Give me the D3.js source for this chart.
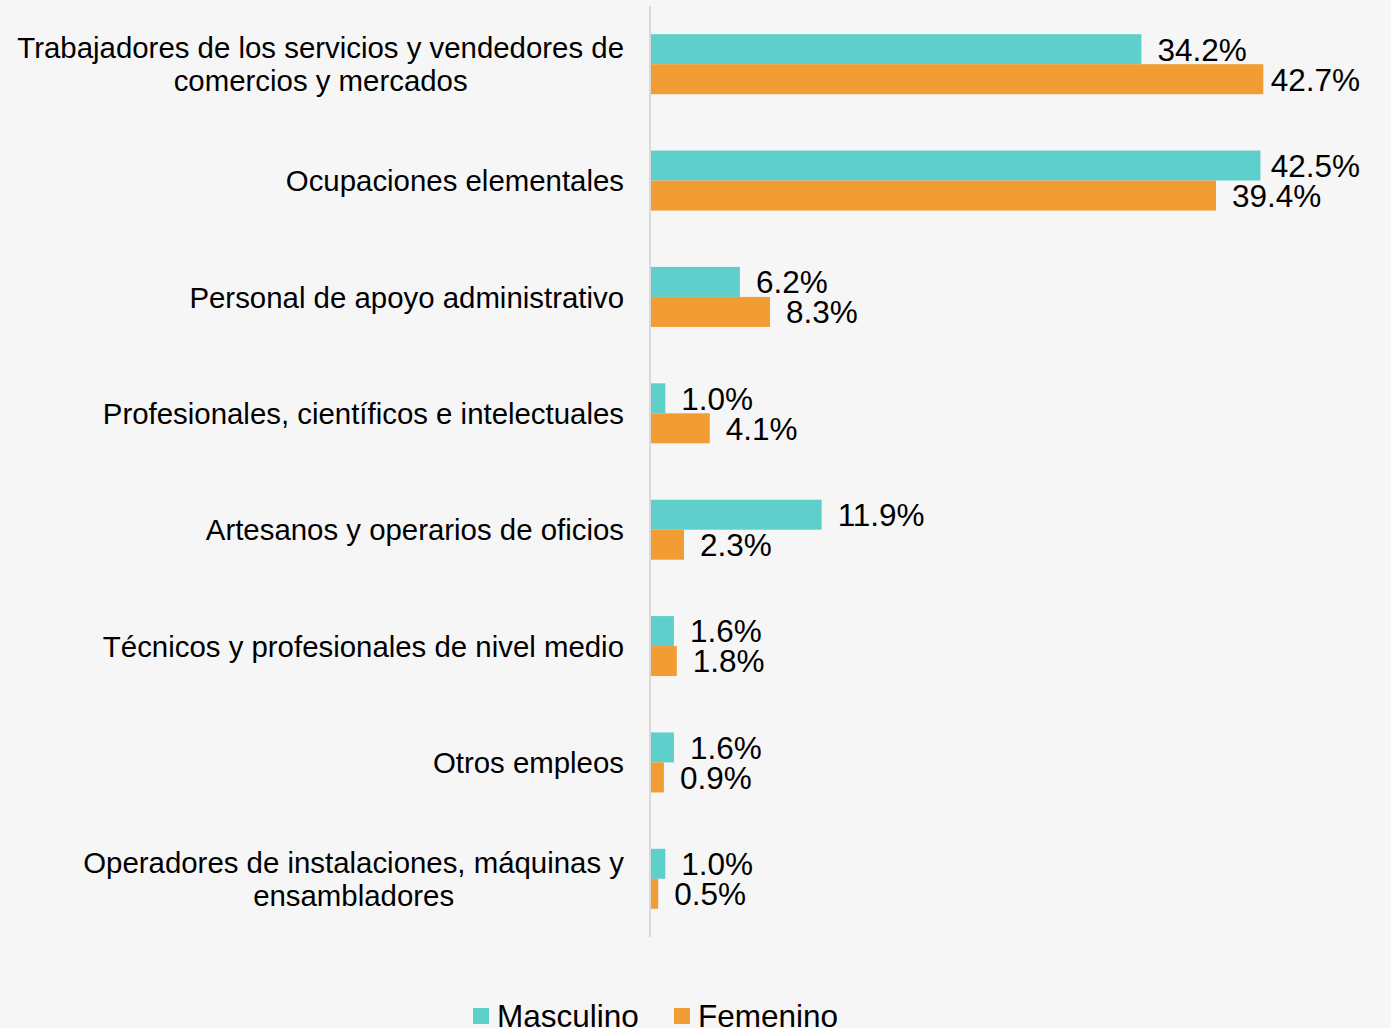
<!DOCTYPE html>
<html>
<head>
<meta charset="utf-8">
<script src="https://cdn.jsdelivr.net/npm/d3@7"></script>
<style>
  html, body { margin: 0; padding: 0; background: #f6f6f6; }
  svg { display: block; font-family: "Liberation Sans", Arial, sans-serif; }
</style>
</head>
<body>
<div id="chart"></div>
<script>
// Categories (top to bottom), each label split into lines
const categories = [
  ["Trabajadores de los servicios y vendedores de", "comercios y mercados"],
  ["Ocupaciones elementales"],
  ["Personal de apoyo administrativo"],
  ["Profesionales, científicos e intelectuales"],
  ["Artesanos y operarios de oficios"],
  ["Técnicos y profesionales de nivel medio"],
  ["Otros empleos"],
  ["Operadores de instalaciones, máquinas y", "ensambladores"]
];
const seriesNames = ["Masculino", "Femenino"];
const masculino = [34.2, 42.5, 6.2, 1.0, 11.9, 1.6, 1.6, 1.0];
const femenino = [42.7, 39.4, 8.3, 4.1, 2.3, 1.8, 0.9, 0.5];
const colors = ["#5fcfcc", "#f29c34"];

const width = 1391, height = 1028;

const svg = d3.select("#chart")
  .append("svg")
  .attr("width", width)
  .attr("height", height)
  .style("background-color", "#f6f6f6");

const keys = categories.map((d, i) => i);

// band for each category, centered in the plot area
const y = d3.scaleBand()
  .domain(keys)
  .range([6, 937])
  .paddingInner(0.4845)
  .paddingOuter(0.4845 / 2);

const ySub = d3.scaleBand()
  .domain(seriesNames)
  .range([0, y.bandwidth()]);

const x = d3.scaleLinear()
  .domain([0, 50])
  .range([651, 1368]);

// vertical axis line
svg.append("line")
  .attr("x1", 650).attr("x2", 650)
  .attr("y1", 6).attr("y2", 937)
  .attr("stroke", "#d9d9d9")
  .attr("stroke-width", 2);

const rows = keys.map(i => [
  { cat: i, s: "Masculino", v: masculino[i], c: colors[0] },
  { cat: i, s: "Femenino", v: femenino[i], c: colors[1] }
]).flat();

const g = svg.append("g");

g.selectAll("rect")
  .data(rows)
  .join("rect")
  .attr("x", x(0))
  .attr("y", d => y(d.cat) + ySub(d.s))
  .attr("width", d => x(d.v) - x(0))
  .attr("height", ySub.bandwidth())
  .attr("fill", d => d.c);

// value labels; pushed left if they would run past the right edge
g.selectAll("text.val")
  .data(rows)
  .join("text")
  .attr("class", "val")
  .attr("y", d => y(d.cat) + ySub(d.s) + ySub.bandwidth() / 2)
  .attr("dy", "0.36em")
  .attr("font-size", 31.5)
  .attr("fill", "#000")
  .text(d => d.v.toFixed(1) + "%")
  .attr("x", function(d) {
    const w = this.getComputedTextLength();
    return Math.min(x(d.v) + 16, 1360 - w);
  });

// category labels: right edge at 624, lines centered on each other
keys.forEach(i => {
  const lines = categories[i];
  const cy = y(i) + y.bandwidth() / 2;
  const lh = 33;
  const t = svg.append("text")
    .attr("font-size", 29.4)
    .attr("fill", "#000")
    .attr("text-anchor", "middle");
  lines.forEach((ln, j) => {
    t.append("tspan")
      .attr("y", cy + (j - (lines.length - 1) / 2) * lh)
      .attr("dy", "0.36em")
      .text(ln);
  });
  const widest = d3.max(t.selectAll("tspan").nodes(), n => n.getComputedTextLength());
  t.selectAll("tspan").attr("x", 624 - widest / 2);
});

// legend
const legend = svg.append("g");
const legendX = [473, 674];
seriesNames.forEach((name, i) => {
  legend.append("rect")
    .attr("x", legendX[i]).attr("y", 1008)
    .attr("width", 16).attr("height", 16)
    .attr("fill", colors[i]);
  legend.append("text")
    .attr("x", legendX[i] + 24)
    .attr("y", 1016)
    .attr("dy", "0.36em")
    .attr("font-size", 31.5)
    .attr("fill", "#000")
    .text(name);
});
</script>
</body>
</html>
